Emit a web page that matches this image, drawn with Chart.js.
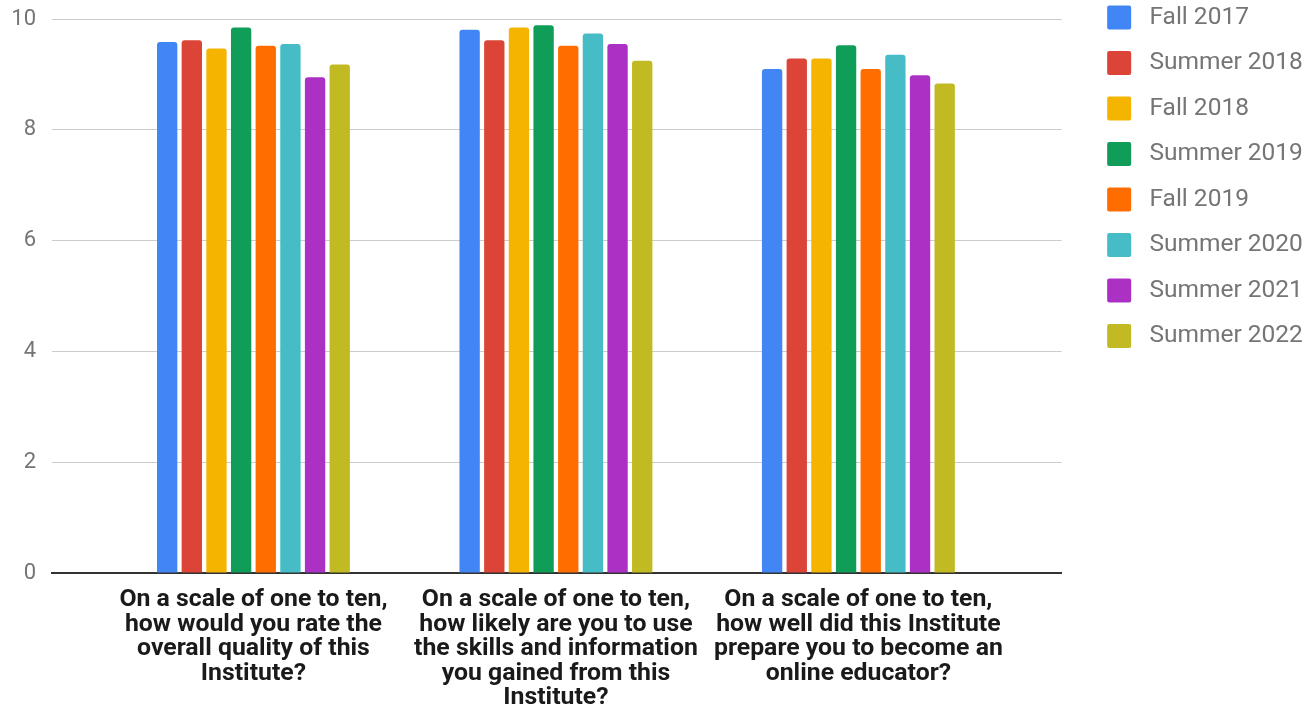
<!DOCTYPE html>
<html>
<head>
<meta charset="utf-8">
<script src="https://cdn.jsdelivr.net/npm/chart.js@4/dist/chart.umd.min.js"></script>
<style>
  html, body { margin: 0; padding: 0; background: #ffffff; overflow: hidden; }
  #wrap { position: absolute; left: 0; top: -10px; width: 1310px; height: 717px; }
</style>
</head>
<body>
<div id="wrap"><canvas id="c"></canvas></div>
<script>
// ---- Data ----
const categories = [
  ["On a scale of one to ten,", "how would you rate the", "overall quality of this", "Institute?"],
  ["On a scale of one to ten,", "how likely are you to use", "the skills and information", "you gained from this", "Institute?"],
  ["On a scale of one to ten,", "how well did this Institute", "prepare you to become an", "online educator?"]
];
const seriesNames = ["Fall 2017", "Summer 2018", "Fall 2018", "Summer 2019", "Fall 2019", "Summer 2020", "Summer 2021", "Summer 2022"];
const fall2017   = [9.59, 9.81, 9.10];
const summer2018 = [9.62, 9.62, 9.29];
const fall2018   = [9.47, 9.85, 9.29];
const summer2019 = [9.85, 9.89, 9.53];
const fall2019   = [9.52, 9.52, 9.10];
const summer2020 = [9.55, 9.74, 9.36];
const summer2021 = [8.95, 9.55, 8.99];
const summer2022 = [9.18, 9.25, 8.84];
const yTicks = [0, 2, 4, 6, 8, 10];

const seriesValues = [fall2017, summer2018, fall2018, summer2019, fall2019, summer2020, summer2021, summer2022];
const colors = ["#4285F4", "#DB4437", "#F4B400", "#0F9D58", "#FF6D00", "#46BDC6", "#AB30C4", "#C2BA22"];

const datasets = seriesNames.map((name, i) => ({
  label: name,
  data: seriesValues[i].map((v, k) => ({ x: k, y: v })),
  backgroundColor: colors[i],
  borderWidth: 0,
  borderRadius: { topLeft: 3, topRight: 3, bottomLeft: 0, bottomRight: 0 },
  borderSkipped: 'start',
  categoryPercentage: 0.652,
  barPercentage: 0.825
}));

new Chart(document.getElementById('c'), {
  type: 'bar',
  data: { datasets },
  options: {
    responsive: true,
    maintainAspectRatio: false,
    animation: false,
    layout: { padding: 0 },
    plugins: {
      tooltip: { enabled: false },
      legend: {
        position: 'right',
        align: 'start',
        labels: {
          font: { family: 'Roboto', size: 24.5 },
          color: '#757575',
          boxWidth: 36,
          boxHeight: 36,
          padding: 9.5,
          useBorderRadius: true,
          borderRadius: 8,
          generateLabels: (chart) => Chart.defaults.plugins.legend.labels.generateLabels(chart)
            .map(l => Object.assign(l, { strokeStyle: '#ffffff', lineWidth: 12 }))
        }
      }
    },
    scales: {
      x: {
        type: 'linear',
        position: 'bottom',
        offset: false,
        min: -0.666,
        max: 2.672,
        afterBuildTicks: (s) => { s.ticks = categories.map((c, i) => ({ value: i })); },
        afterFit: (s) => { s.height = 134; },
        ticks: {
          autoSkip: false,
          maxRotation: 0,
          padding: 14.5,
          color: '#1a1a1a',
          font: { family: 'Roboto', size: 24.8, weight: 'bold', lineHeight: '24.6px' },
          callback: (v) => categories[v]
        },
        grid: { drawOnChartArea: false, drawTicks: false },
        border: { display: true, color: '#333333', width: 2 }
      },
      y: {
        min: 0,
        max: 10,
        afterBuildTicks: (s) => { s.ticks = yTicks.map(v => ({ value: v })); },
        afterFit: (s) => { s.width = 52; },
        ticks: {
          padding: 16,
          color: '#757575',
          font: { family: 'Roboto', size: 22 }
        },
        grid: { color: '#cccccc', lineWidth: 1, drawTicks: false },
        border: { display: false }
      },
      topPad: {
        type: 'linear', position: 'top', display: true,
        grid: { display: false }, border: { display: false }, ticks: { display: false },
        afterFit: (s) => { s.height = 28; }
      },
      rightPad: {
        type: 'linear', position: 'right', display: true,
        grid: { display: false }, border: { display: false }, ticks: { display: false },
        afterFit: (s) => { s.width = 30; }
      }
    }
  }
});
</script>
</body>
</html>
